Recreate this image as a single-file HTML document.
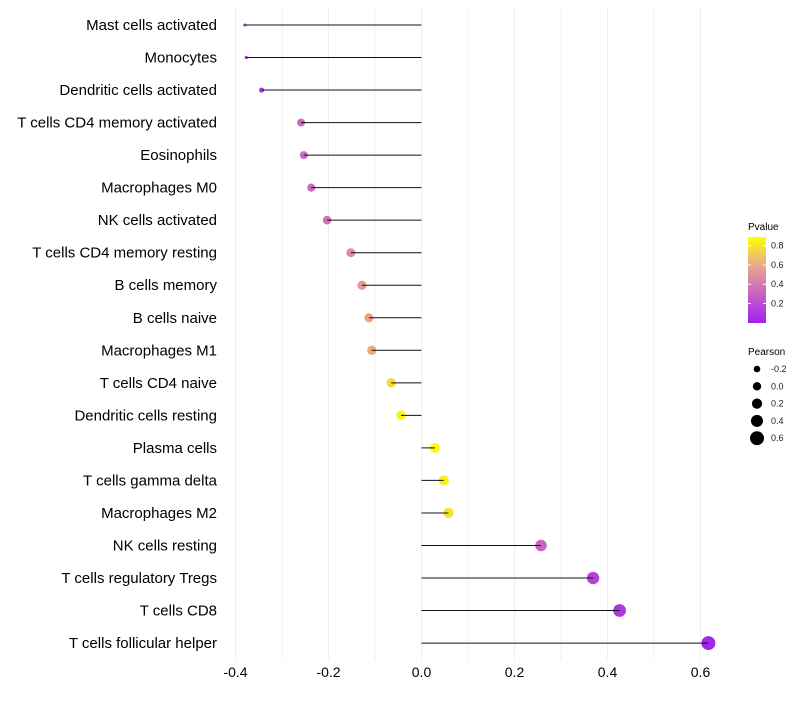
<!DOCTYPE html>
<html><head><meta charset="utf-8"><style>
body{margin:0;background:#fff;font-family:"Liberation Sans",sans-serif}
svg text{font-family:"Liberation Sans",sans-serif}
</style></head><body>
<svg id="chart" width="800" height="700" xmlns="http://www.w3.org/2000/svg">
<defs><linearGradient id="pg" x1="0" y1="1" x2="0" y2="0">
<stop offset="0" stop-color="#a020f0"/><stop offset="0.33" stop-color="#c862c4"/><stop offset="0.67" stop-color="#e8a890"/><stop offset="1" stop-color="#ffff00"/>
</linearGradient></defs>
<g id="grid"></g>
<g id="dots"></g>
<g id="marks"></g>
<g id="ylabels"></g>
<g id="xlabels"></g>
<g>
<text x="748" y="230" font-size="10">Pvalue</text>
<rect x="748" y="237" width="18" height="86" fill="url(#pg)"/>
<g id="cbticks"></g>
</g>
<g>
<text x="748" y="355" font-size="10">Pearson</text>
<g id="sizeleg"></g>
</g>
</svg>
<script>
const categories=["Mast cells activated","Monocytes","Dendritic cells activated","T cells CD4 memory activated","Eosinophils","Macrophages M0","NK cells activated","T cells CD4 memory resting","B cells memory","B cells naive","Macrophages M1","T cells CD4 naive","Dendritic cells resting","Plasma cells","T cells gamma delta","Macrophages M2","NK cells resting","T cells regulatory  Tregs","T cells CD8","T cells follicular helper"];
const pearson=[-0.38,-0.377,-0.344,-0.259,-0.253,-0.237,-0.203,-0.152,-0.128,-0.113,-0.107,-0.065,-0.044,0.029,0.048,0.058,0.257,0.369,0.426,0.617];
const pvalues=[0.05,0.06,0.1,0.32,0.33,0.34,0.38,0.52,0.56,0.62,0.63,0.78,0.86,0.88,0.85,0.8,0.3,0.15,0.1,0.03];
const xTicks=[-0.4,-0.2,0,0.2,0.4,0.6];
const xGrid=[-0.4,-0.3,-0.2,-0.1,0,0.1,0.2,0.3,0.4,0.5,0.6];
const cbTicks=[0.2,0.4,0.6,0.8];
const sizeTicks=[-0.2,0,0.2,0.4,0.6];
const NS="http://www.w3.org/2000/svg";
const X=v=>421.5+v*465;
const Y=i=>25+i*32.53;
const RK=[[-0.4,1.3],[-0.38,1.5],[-0.34,2.7],[-0.26,4],[-0.15,4.5],[0,4.9],[0.26,5.8],[0.43,6.4],[0.62,7]];
function R(v){if(v<=RK[0][0])return RK[0][1];for(let k=1;k<RK.length;k++){if(v<=RK[k][0]){const a=RK[k-1],b=RK[k];return a[1]+(b[1]-a[1])*(v-a[0])/(b[0]-a[0]);}}return RK[RK.length-1][1];}
const LR=v=>3.3+(v+0.2)*4.6;
const PMAX=0.9;
const stops=[[0,[160,32,240]],[0.33,[200,98,196]],[0.67,[232,160,136]],[1,[255,255,0]]];
function col(p){let t=Math.max(0,Math.min(1,p/PMAX));for(let k=1;k<stops.length;k++){if(t<=stops[k][0]){const a=stops[k-1],b=stops[k];const f=(t-a[0])/(b[0]-a[0]);return "rgb("+a[1].map((c,j)=>Math.round(c+(b[1][j]-c)*f)).join(",")+")";}}return "rgb(255,255,0)";}
function mk(tag,at,parent){const e=document.createElementNS(NS,tag);for(const k in at)e.setAttribute(k,at[k]);parent.appendChild(e);return e;}
const grid=document.getElementById('grid');
xGrid.forEach(v=>{const l=mk('line',{x1:X(v),x2:X(v),y1:8,y2:660,stroke:'#f0f0f0','stroke-width':1},grid);

});
const marks=document.getElementById('marks'),dots=document.getElementById('dots'),yl=document.getElementById('ylabels');
categories.forEach((c,i)=>{
const d=mk('circle',{cx:X(pearson[i]),cy:Y(i),r:R(pearson[i]),fill:col(pvalues[i])},dots);


const s=mk('line',{x1:X(0),x2:X(pearson[i]),y1:Y(i),y2:Y(i),stroke:'#111','stroke-width':1},marks);


const t=mk('text',{x:217,y:Y(i)+5,'font-size':15,'text-anchor':'end',fill:'#000'},yl);t.textContent=c;


});
const xl=document.getElementById('xlabels');
xTicks.forEach(v=>{const t=mk('text',{x:X(v),y:677,'font-size':14,'text-anchor':'middle',fill:'#000'},xl);t.textContent=v.toFixed(1);

});
const cb=document.getElementById('cbticks');
cbTicks.forEach(v=>{const y=322.7-v*96.2;
mk('line',{x1:748,x2:751,y1:y,y2:y,stroke:'#fff'},cb);mk('line',{x1:763,x2:766,y1:y,y2:y,stroke:'#fff'},cb);
const t=mk('text',{x:771,y:y+3,'font-size':9,fill:'#1a1a1a'},cb);t.textContent=v.toFixed(1);

});
const sl=document.getElementById('sizeleg');
sizeTicks.forEach((v,k)=>{const y=369+k*17.3;
const c=mk('circle',{cx:757,cy:y,r:LR(v),fill:'#000'},sl);


const t=mk('text',{x:771,y:y+3,'font-size':9,fill:'#1a1a1a'},sl);t.textContent=v.toFixed(1);

});
</script>
</body></html>
